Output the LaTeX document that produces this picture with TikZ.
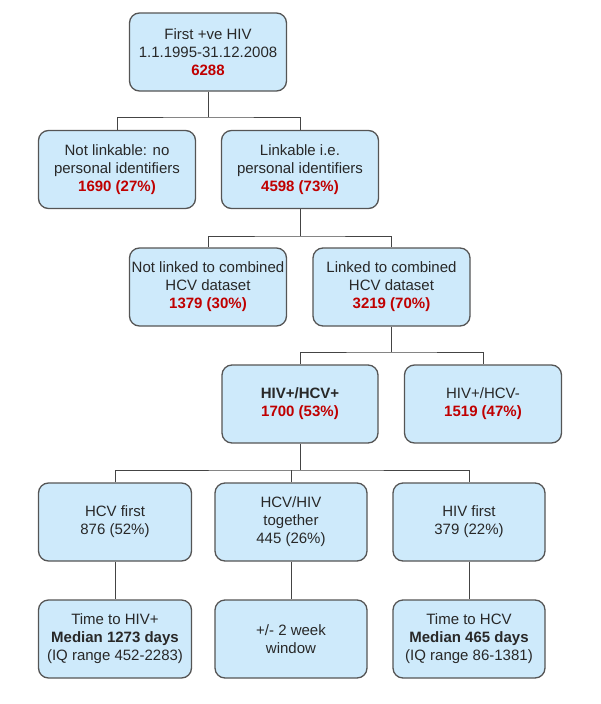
\documentclass[tikz,border=0pt]{standalone}
\usepackage{fontspec}
\setmainfont{Liberation Sans}
\definecolor{boxfill}{RGB}{206,234,251}
\definecolor{boxline}{RGB}{85,85,85}
\definecolor{numred}{RGB}{192,0,0}
\definecolor{txt}{RGB}{40,40,40}
\newcommand{\rn}[1]{\textcolor{numred}{\textbf{#1}}}
\begin{document}
\begin{tikzpicture}[x=1pt,y=-1pt,
  fbox/.style={draw=boxline, line width=1.3pt, fill=boxfill, rounded corners=10pt,
    minimum width=157pt, minimum height=78pt, inner xsep=0pt, align=center,
    text=txt, font=\fontsize{15}{18}\selectfont},
  link/.style={draw=boxline!80!black, line width=1pt}]
\useasboundingbox (0,0) rectangle (600,704);
\node[fbox] (top) at (208,52) {First +ve HIV\\1.1.1995-31.12.2008\\\rn{6288}};
\node[fbox] (a1) at (117,169.5) {Not linkable: no\\personal identifiers\\\rn{1690 (27\%)}};
\node[fbox] (a2) at (300,169.5) {Linkable i.e.\\personal identifiers\\\rn{4598 (73\%)}};
\node[fbox] (b1) at (208,287) {Not linked to combined\\HCV dataset\\\rn{1379 (30\%)}};
\node[fbox] (b2) at (391.5,287) {Linked to combined\\HCV dataset\\\rn{3219 (70\%)}};
\node[fbox, minimum width=156pt] (c1) at (300,404) {\textbf{HIV+/HCV+}\\\rn{1700 (53\%)}};
\node[fbox] (c2) at (483,404) {HIV+/HCV-\\\rn{1519 (47\%)}};
\node[fbox, minimum width=153pt] (d1) at (115,522) {HCV first\\876 (52\%)};
\node[fbox, minimum width=152pt] (d2) at (291,522) {HCV/HIV\\together\\445 (26\%)};
\node[fbox, minimum width=152pt] (d3) at (469,522) {HIV first\\379 (22\%)};
\node[fbox, minimum width=153pt] (e1) at (115,639) {Time to HIV+\\\textbf{Median 1273 days}\\(IQ range 452-2283)};
\node[fbox, minimum width=152pt] (e2) at (291,639) {+/- 2 week\\window};
\node[fbox, minimum width=152pt] (e3) at (469,639) {Time to HCV\\\textbf{Median 465 days}\\(IQ range 86-1381)};
\coordinate (j1) at (208,117);
\coordinate (j2) at (300,236);
\coordinate (j3) at (391.5,352);
\coordinate (j4) at (300,470);
\draw[link] (top.south) -- (j1);
\draw[link] (a1.north) |- (j1) -| (a2.north);
\draw[link] (a2.south) -- (j2);
\draw[link] (b1.north) |- (j2) -| (b2.north);
\draw[link] (b2.south) -- (j3);
\draw[link] (c1.north) |- (j3) -| (c2.north);
\draw[link] (c1.south) -- (j4);
\draw[link] (d1.north) |- (j4) -| (d3.north);
\draw[link] (d2.north) -- (d2.north |- j4);
\draw[link] (d1.south) -- (e1.north);
\draw[link] (d2.south) -- (e2.north);
\draw[link] (d3.south) -- (e3.north);
\end{tikzpicture}
\end{document}
